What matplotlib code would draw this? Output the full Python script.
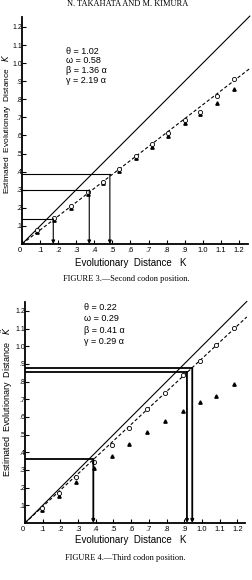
import matplotlib.pyplot as plt

plt.rcParams['font.family'] = ['Liberation Sans', 'DejaVu Sans']

# Figure 3 (second codon position)
k3 = [0.085, 0.178, 0.27, 0.363, 0.449, 0.538, 0.63, 0.72, 0.81, 0.904, 0.987, 1.079, 1.175]
circ3 = [0.077, 0.146, 0.21, 0.29, 0.345, 0.413, 0.488, 0.552, 0.612, 0.685, 0.731, 0.819, 0.912]
tri3 = [0.068, 0.134, 0.2, 0.278, 0.335, 0.402, 0.475, 0.535, 0.597, 0.667, 0.716, 0.78, 0.855]
slope3 = 0.77
guide3_k = [0.173, 0.372, 0.486]
guide3_kt = [0.14, 0.30, 0.385]
params3 = ['θ = 1.02', 'ω = 0.58', 'β = 1.36 α', 'γ = 2.19 α']

# Figure 4 (third codon position)
k4 = [0.094, 0.19, 0.29, 0.39, 0.49, 0.59, 0.69, 0.79, 0.89, 0.99, 1.08, 1.18]
circ4 = [0.085, 0.17, 0.26, 0.345, 0.44, 0.535, 0.642, 0.736, 0.836, 0.917, 1.006, 1.105]
tri4 = [0.075, 0.155, 0.23, 0.31, 0.378, 0.446, 0.516, 0.576, 0.633, 0.685, 0.72, 0.784]
slope4 = 0.93
guide4_k = [0.386, 0.915, 0.945]
guide4_kt = [0.36, 0.855, 0.877]
params4 = ['θ = 0.22', 'ω = 0.29', 'β = 0.41 α', 'γ = 0.29 α']

ticks = [0.1 * i for i in range(1, 13)]
ticklabels = ['.1', '.2', '.3', '.4', '.5', '.6', '.7', '.8', '.9', '1.0', '1.1', '1.2']

W, H = 253, 580
fig = plt.figure(figsize=(W / 100, H / 100), dpi=100)


def px(x, y):
    return x / W, 1 - y / H


def panel(rect, xmax, ymax, k, circ, tri, slope, gk, gkt, params, ptxt, lw_guide, arrow):
    ax = fig.add_axes(rect)
    ax.set_xlim(0, xmax)
    ax.set_ylim(0, ymax)
    for s in ['top', 'right']:
        ax.spines[s].set_visible(False)
    for s in ['left', 'bottom']:
        ax.spines[s].set_linewidth(1.3)
    ax.set_xticks([0] + ticks)
    ax.set_xticklabels(['0'] + ticklabels)
    ax.set_yticks(ticks)
    ax.set_yticklabels(ticklabels)
    ax.tick_params(direction='in', length=3, width=0.8, labelsize=5.5, pad=2)
    ax.tick_params(axis='y', pad=0, labelsize=5)
    ax.get_xticklabels()[0].set_horizontalalignment('right')

    ax.plot([0, xmax + 0.01], [0, xmax + 0.01], color='black', lw=0.8, clip_on=False)
    ax.plot([0, xmax + 0.01], [0, slope * (xmax + 0.01)], color='black', lw=0.8,
            ls=(0, (3, 2)), clip_on=False)
    ax.plot(k, tri, ls='none', marker='^', ms=2.4, color='black')
    ax.plot(k, circ, ls='none', marker='o', ms=3.0, mfc='white', mec='black', mew=0.6)

    for x, y in zip(gk, gkt):
        ax.plot([0, x], [y, y], color='black', lw=lw_guide)
        ax.annotate('', xy=(x, 0), xytext=(x, y),
                    arrowprops=dict(arrowstyle='-|>', color='black', lw=lw_guide,
                                    mutation_scale=arrow, shrinkA=0, shrinkB=0))

    tx, ty, dy = ptxt
    for i, t in enumerate(params):
        fig.text(*px(tx, ty + i * dy), t, fontsize=6.5, va='center', ha='left')
    return ax


panel([22 / W, 1 - 244 / H, 226 / W, 227 / H], 1.25, 1.255, k3, circ3, tri3, slope3,
      guide3_k, guide3_kt, params3, (66, 51, 9.7), 0.8, 5)
panel([25 / W, 1 - 523 / H, 220 / W, 221 / H], 1.243, 1.25, k4, circ4, tri4, slope4,
      guide4_k, guide4_kt, params4, (84, 307, 11.6), 1.3, 4)

# axis labels
fig.text(*px(131, 263), 'Evolutionary  Distance   K', fontsize=7, ha='center', va='center')
fig.text(*px(131, 540), 'Evolutionary  Distance   K', fontsize=7, ha='center', va='center')
fig.text(*px(6.6, 124), r'Estimated  Evolutionary  Distance   $\tilde{K}$', fontsize=6.0,
         rotation=90, ha='center', va='center')
fig.text(*px(7, 402), r'Estimated  Evolutionary  Distance   $\tilde{K}$', fontsize=6.5,
         rotation=90, ha='center', va='center')

# header and captions
fig.text(*px(128, 4), 'N. TAKAHATA AND M. KIMURA', fontsize=6, family='Liberation Serif',
         ha='center', va='center')
fig.text(*px(126, 279), 'FIGURE 3.—Second codon position.', fontsize=6,
         family='Liberation Serif', ha='center', va='center')
fig.text(*px(125, 558), 'FIGURE 4.—Third codon position.', fontsize=6,
         family='Liberation Serif', ha='center', va='center')

fig.savefig('out.png', dpi=100, facecolor='white')
